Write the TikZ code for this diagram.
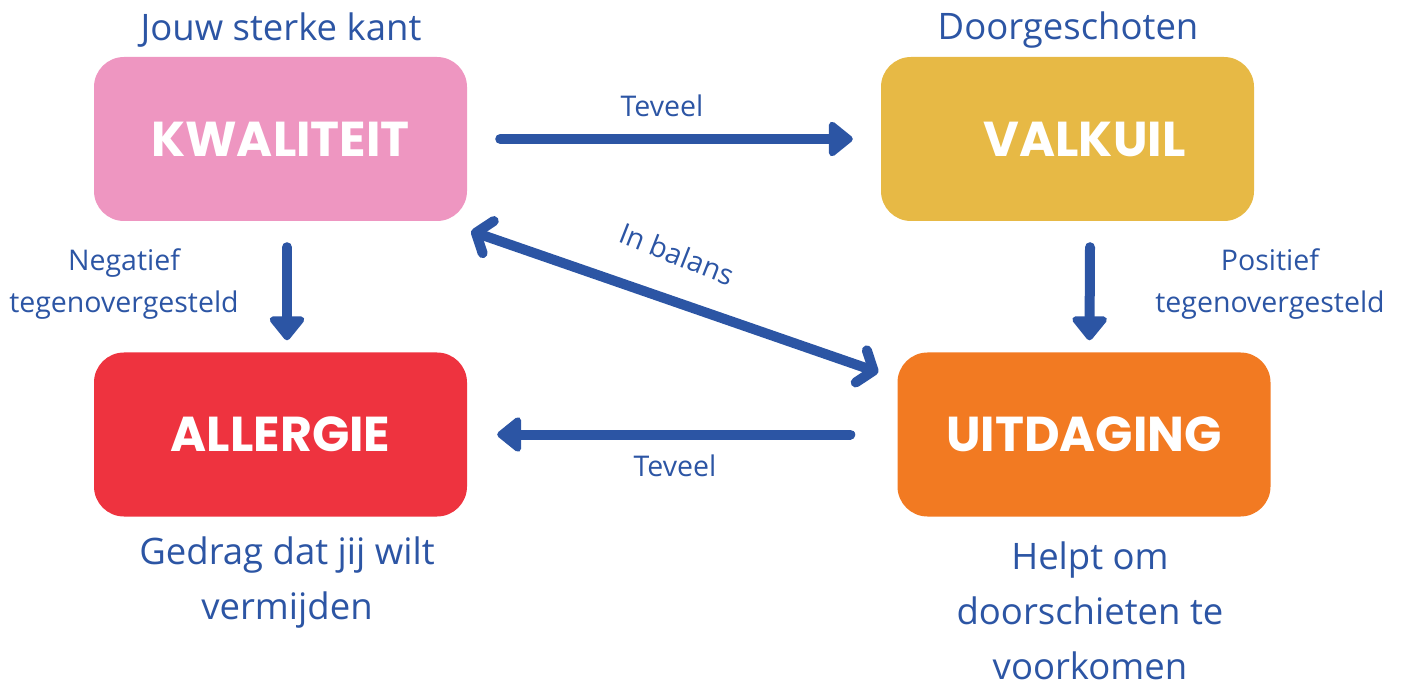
\documentclass[tikz,border=0pt]{standalone}
\usepackage{fontspec}
\setmainfont{Open Sans}
\newfontfamily\boxfont{Poppins}
\usetikzlibrary{arrows.meta}
\definecolor{kpink}{HTML}{EE96C1}
\definecolor{kyellow}{HTML}{E7B945}
\definecolor{kred}{HTML}{EE333F}
\definecolor{korange}{HTML}{F27A22}
\definecolor{kblue}{HTML}{2C55A4}
\tikzset{
  box/.style={rounded corners=30pt, minimum width=373pt, minimum height=164pt, inner sep=0pt,
    text=white, font=\boxfont\bfseries\fontsize{49}{54}\selectfont},
  lbl/.style={text=kblue, font=\fontsize{28.5}{42}\selectfont, align=center, inner sep=0pt},
  biglbl/.style={text=kblue, font=\fontsize{36.5}{55}\selectfont, align=center, inner sep=0pt},
  conn/.style={draw=kblue, line width=10pt, line cap=round, line join=round,
    -{Triangle[length=26pt,width=40pt,round]}},
  dconn/.style={draw=kblue, line width=10pt, line cap=round, line join=round,
    {Straight Barb[length=13pt,width=34pt,round]}-{Straight Barb[length=13pt,width=34pt,round]}}
}
\begin{document}
\begin{tikzpicture}[x=1pt,y=-1pt]
\useasboundingbox (0,0) rectangle (1403,684);
\node[box, fill=kpink] (kw) at (280.5,139) {KWALITEIT};
\node[box, fill=kyellow] (va) at (1067.5,139) {\hspace*{34pt}VALKUIL};
\node[box, fill=kred] (al) at (280.5,434.5) {ALLERGIE};
\node[box, fill=korange] (ui) at (1084,434.5) {UITDAGING};

\node[biglbl] (t1) at (281,30) {Jouw sterke kant};
\node[biglbl] (t2) at (1068,30) {Doorgeschoten};
\node[biglbl] (t3) at (287,583) {Gedrag dat jij wilt\\vermijden};
\node[biglbl] (t4) at (1090,611) {Helpt om\\doorschieten te\\voorkomen};

\node[lbl] (l1) at (662,106) {Teveel};
\node[lbl] (l2) at (675,466) {Teveel};
\node[lbl] (l3) at (124,284) {Negatief\\tegenovergesteld};
\node[lbl] (l4) at (1270,284) {Positief\\tegenovergesteld};
\node[lbl, rotate=-21.5] (l5) at (677,254) {In balans};

\draw[conn] ([xshift=33pt]kw.east) -- ([xshift=-28pt]va.west);
\draw[conn] ([xshift=-47pt]ui.west) -- ([xshift=30pt]al.east);
\draw[conn] ([xshift=6.5pt,yshift=-26pt]kw.south) -- ([xshift=6.5pt,yshift=12pt]al.north);
\draw[conn] ([xshift=22.5pt,yshift=-26pt]va.south) -- ([xshift=5.5pt,yshift=12pt]ui.north);
\draw[dconn] ([xshift=4pt,yshift=-10pt]kw.south east) -- ([xshift=-19pt,yshift=-20pt]ui.north west);
\end{tikzpicture}
\end{document}
